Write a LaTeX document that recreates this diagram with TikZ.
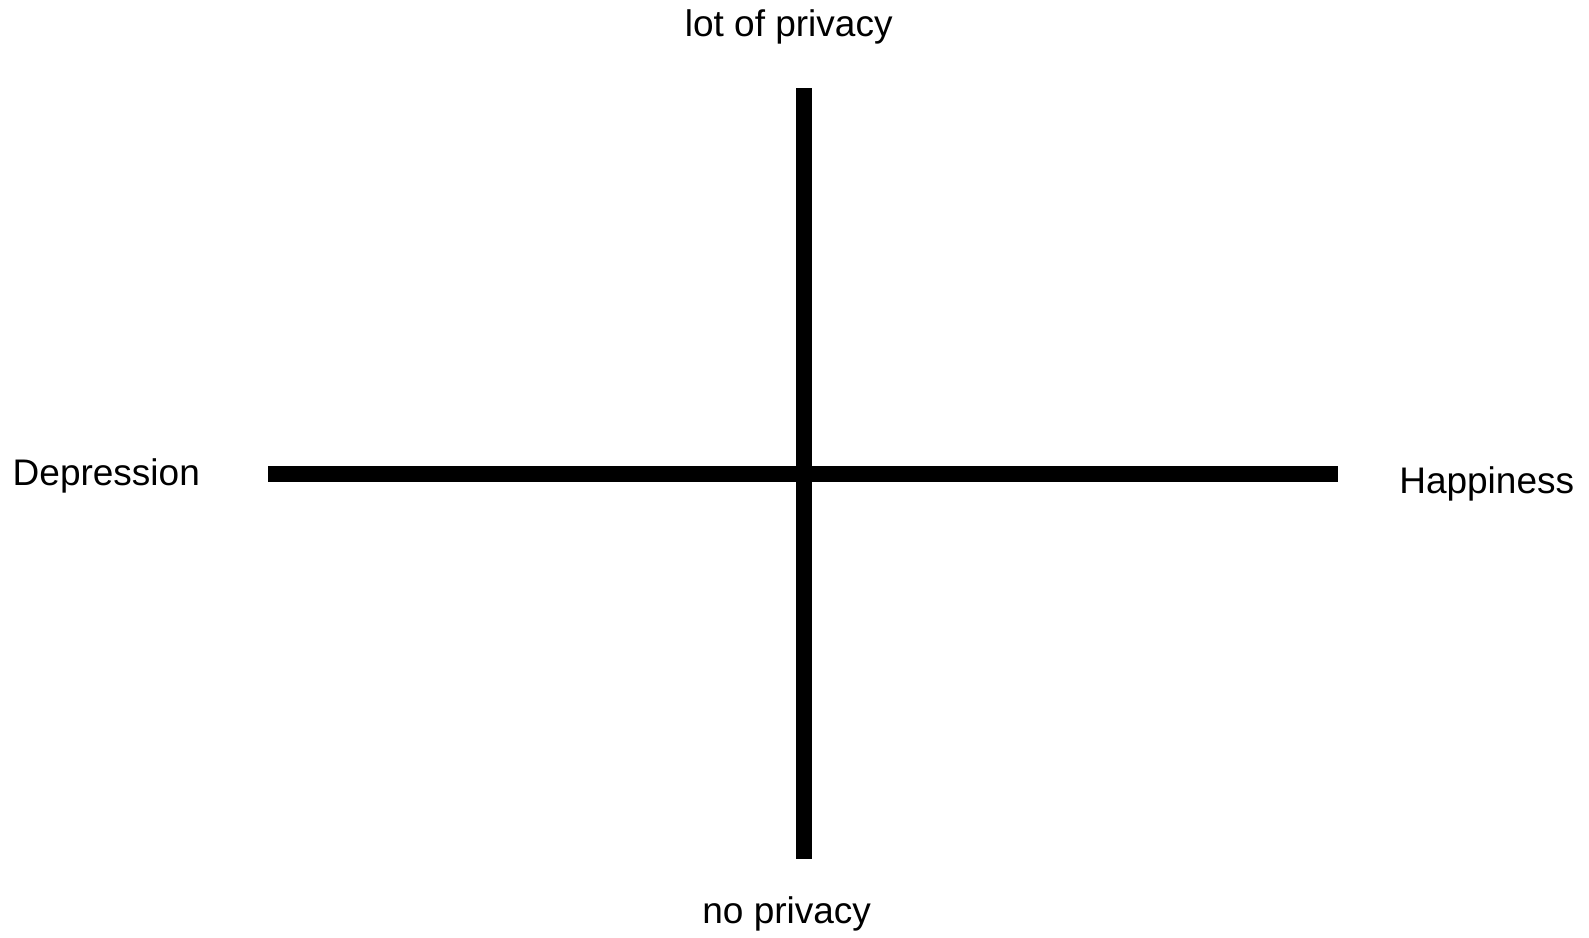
\documentclass[tikz,border=0pt]{standalone}
\usepackage{fontspec}
\setmainfont{Liberation Sans}
\usetikzlibrary{positioning}

\tikzset{
  axislabel/.style={inner sep=0pt, anchor=base, font=\fontsize{37}{44}\selectfont},
  axisline/.style={black, line width=16pt}
}

\begin{document}
\begin{tikzpicture}[x=1pt, y=-1pt]
    \useasboundingbox (0,0) rectangle (1589,937);

    % Axis ends
    \coordinate (ptop) at (803.7,88.3);
    \coordinate (pbot) at (803.7,859.3);
    \coordinate (pleft) at (268.3,474);
    \coordinate (pright) at (1338.3,474);

    % Privacy axis
    \draw[axisline] (ptop) -- (pbot);
    \node[axislabel] (lotpriv) at (788.7,36.7) {lot of privacy};
    \node[axislabel] (nopriv) at (786.7,923.5) {no privacy};

    % Mood axis
    \draw[axisline] (pleft) -- (pright);
    \node[axislabel] (depr) at (106.3,485) {Depression};
    \node[axislabel] (happy) at (1486.7,493.3) {Happiness};
\end{tikzpicture}
\end{document}
